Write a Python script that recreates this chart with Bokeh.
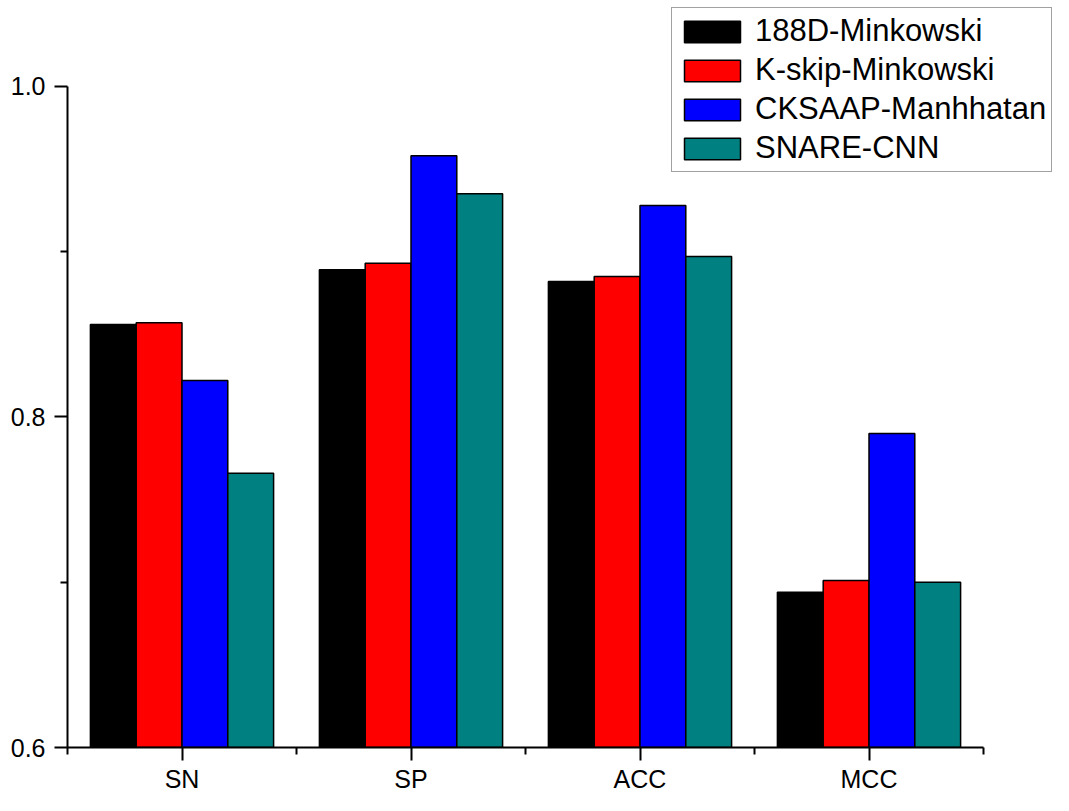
from bokeh.plotting import figure
from bokeh.models import (ColumnDataSource, Range1d, FixedTicker, PrintfTickFormatter,
                          Legend, LegendItem)
from bokeh.embed import file_html
from bokeh.resources import INLINE

categories = ["SN", "SP", "ACC", "MCC"]
series_names = ["188D-Minkowski", "K-skip-Minkowski", "CKSAAP-Manhhatan", "SNARE-CNN"]
colors = ["#000000", "#FF0000", "#0000FF", "#008080"]
v_188d = [0.856, 0.889, 0.882, 0.694]
v_kskip = [0.857, 0.893, 0.885, 0.701]
v_cksaap = [0.822, 0.958, 0.928, 0.790]
v_snare = [0.766, 0.935, 0.897, 0.700]
values = [v_188d, v_kskip, v_cksaap, v_snare]

W, H = 1053, 795
FRAME_BOTTOM = 748  # canvas y of frame bottom (set by axis size)
Y1_PIX = 86          # canvas y where 1.0 should sit
XL, X4 = 67, 983

ppu_y = (FRAME_BOTTOM - Y1_PIX) / 0.4
y_end = 1.0 + Y1_PIX / ppu_y
x_end = 4 + (W - X4) / ((X4 - XL) / 4)

p = figure(width=W, height=H, output_backend="svg", toolbar_location=None,
           x_range=Range1d(0, x_end), y_range=Range1d(0.6, y_end))
p.min_border = 0
p.min_border_left = XL
p.min_border_right = 0
p.min_border_top = 0
p.outline_line_color = None
p.xgrid.visible = False
p.ygrid.visible = False
p.background_fill_color = "white"

width = 0.2
renderers = []
for j, (name, col, vals) in enumerate(zip(series_names, colors, values)):
    xs = [i + 0.5 + (j - 1.5) * width for i in range(len(categories))]
    src = ColumnDataSource(dict(x=xs, top=vals, cat=categories))
    r = p.vbar(x="x", top="top", bottom=0.6, width=width, source=src,
               fill_color=col, line_color="black", line_width=1.5)
    renderers.append((name, r))

font = "Liberation Sans"

# x axis
xa = p.xaxis[0]
xa.bounds = (0, 4)
xa.ticker = FixedTicker(ticks=[i + 0.5 for i in range(len(categories))],
                        minor_ticks=list(range(len(categories) + 1)))
xa.major_label_overrides = {i + 0.5: c for i, c in enumerate(categories)}
xa.axis_line_width = 2
xa.major_tick_line_width = 2
xa.minor_tick_line_width = 2
xa.major_tick_out = 13
xa.major_tick_in = 0
xa.minor_tick_out = 7
xa.minor_tick_in = 0
xa.major_label_standoff = 4
xa.major_label_text_font = font
xa.major_label_text_font_size = "25px"
xa.major_label_text_color = "black"

# y axis
ya = p.yaxis[0]
ya.bounds = (0.6, 1.0)
ya.ticker = FixedTicker(ticks=[0.6, 0.8, 1.0], minor_ticks=[0.7, 0.9])
ya.formatter = PrintfTickFormatter(format="%.1f")
ya.axis_line_width = 2
ya.major_tick_line_width = 2
ya.minor_tick_line_width = 2
ya.major_tick_out = 13
ya.major_tick_in = 0
ya.minor_tick_out = 7
ya.minor_tick_in = 0
ya.major_label_standoff = 9
ya.major_label_text_font = font
ya.major_label_text_font_size = "25px"
ya.major_label_text_color = "black"

legend = Legend(items=[LegendItem(label=n, renderers=[r]) for n, r in renderers],
                location=(604, FRAME_BOTTOM - 173))
legend.glyph_width = 70
legend.glyph_height = 27
legend.label_height = 27
legend.label_standoff = 8
legend.spacing = 3
legend.padding = 5
legend.margin = 0
legend.label_text_font = font
legend.label_text_font_size = "31px"
legend.label_text_color = "black"
legend.border_line_color = "#444444"
legend.border_line_width = 1.5
legend.background_fill_color = "white"
legend.background_fill_alpha = 1.0
p.add_layout(legend, "center")

open("out.html", "w").write(file_html(p, INLINE))
